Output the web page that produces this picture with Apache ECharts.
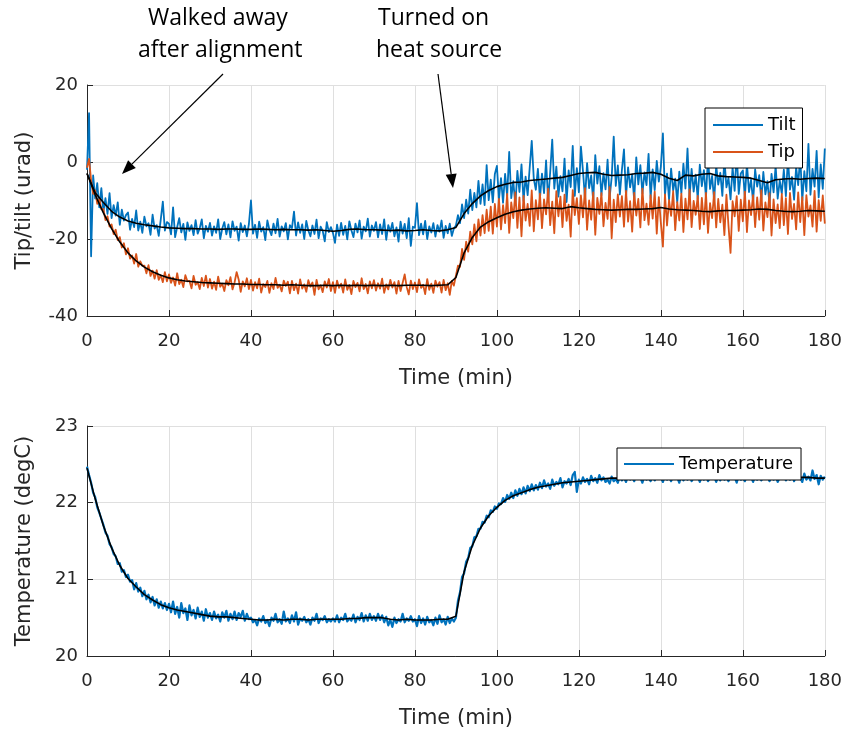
<!DOCTYPE html>
<html>
<head>
<meta charset="utf-8">
<script src="https://cdn.jsdelivr.net/npm/echarts@6/dist/echarts.min.js"></script>
<style>
  html, body { margin: 0; padding: 0; background: #ffffff; }
  #chart { width: 845px; height: 730px; }
</style>
</head>
<body>
<div id="chart"></div>
<script>
// Sampling of the logged data (minutes between samples)
const RAW_STEP = 0.5;
const AVG_STEP = 2;

// Tilt, raw readings (urad), one row per 10 minutes
const tiltRaw = [
  -2.0, 12.7, -24.5, -3.5, -9.5, -5.5, -11.8, -6.8, -12.9, -9.4, -13.5, -8.1, -14.6, -11.2, -13.9, -10.5, -16.3, -12.4, -15.2, -13.8,
  -13.1, -17.6, -14.8, -16.9, -12.6, -17.8, -15.5, -18.4, -14.2, -16.7, -15.9, -18.9, -13.7, -17.3, -16.4, -19.2, -14.9, -10.3, -17.8, -15.6,
  -16.0, -18.8, -11.8, -19.5, -16.9, -14.6, -18.3, -16.1, -20.2, -15.7, -17.9, -16.4, -19.0, -15.1, -18.6, -17.2, -14.9, -19.8, -16.6, -18.1,
  -15.8, -19.1, -16.7, -18.4, -14.9, -20.0, -17.3, -15.6, -18.8, -16.2, -19.6, -15.4, -17.9, -16.8, -20.4, -15.9, -18.2, -16.5, -19.3, -16.1,
  -10.0, -18.6, -16.3, -19.7, -15.5, -18.1, -16.9, -20.3, -15.2, -17.6, -19.0, -16.0, -18.5, -14.8, -19.4, -16.7, -18.0, -15.9, -20.1, -16.4,
  -17.2, -12.9, -19.1, -15.7, -18.4, -16.2, -20.0, -15.3, -17.8, -19.3, -16.5, -18.7, -15.0, -19.8, -16.8, -17.9, -20.6, -15.6, -18.2, -16.9,
  -18.4, -21.0, -16.3, -19.2, -15.8, -18.9, -16.6, -20.1, -15.4, -17.7, -19.5, -16.0, -18.3, -15.2, -19.9, -16.8, -18.0, -14.7, -19.4, -16.5,
  -17.9, -15.6, -19.6, -16.2, -18.7, -14.9, -20.2, -16.4, -18.1, -15.8, -19.3, -17.0, -20.7, -15.5, -18.6, -16.1, -19.8, -14.6, -21.8, -16.8,
  -17.1, -10.7, -19.0, -16.0, -18.8, -15.3, -20.0, -16.7, -18.3, -15.9, -19.4, -16.4, -18.1, -15.2, -19.7, -16.6, -18.5, -16.0, -19.2, -17.3,
  -16.5, -13.8, -15.9, -11.0, -14.6, -9.8, -13.4, -7.2, -12.5, -8.0, -11.8, -4.9, -10.9, -5.8, -11.2, -0.8, -9.9, -4.6, -10.5, -3.1,
  -1.0, -9.8, -4.2, -10.6, -3.1, -8.9, 2.6, -9.4, -5.0, -11.2, -2.3, -7.8, -0.6, -10.1, -3.8, -8.6, -1.5, 5.5, -4.4, -7.2,
  -1.8, -9.5, -3.0, -8.1, 0.4, -10.3, -2.6, 5.8, -6.9, -1.2, -9.0, -3.7, -7.6, 0.9, -10.4, -2.2, -6.5, 4.2, -8.8, -1.6,
  -7.9, 4.0, -2.4, -9.6, -0.3, -6.8, -3.5, -10.2, 1.8, -5.6, -1.1, -8.7, -2.9, -7.1, 0.6, -9.3, -4.0, 6.6, -6.2, -0.9,
  -8.4, -2.0, 3.3, -9.1, -1.4, -6.6, -3.2, -10.0, 1.2, -5.8, -0.8, -8.2, -2.7, -6.0, 2.1, -9.4, -1.9, -7.3, 0.3, -5.1,
  -1.2, 7.4, -8.6, -3.0, -9.8, -1.7, -7.4, -4.3, -10.5, -2.5, -8.1, -0.4, -6.9, 3.5, -9.2, -1.8, -7.7, -3.3, -9.6, -0.7,
  -6.3, -2.1, -9.3, 1.5, -7.0, -3.6, -10.1, -0.9, -5.9, -2.8, -8.8, 0.8, -6.6, -4.1, -9.7, -1.4, -7.5, 2.4, -8.3, -3.0,
  -2.2, -9.0, -0.5, -7.8, -4.6, -10.4, -1.9, -6.4, -3.4, -9.9, -2.6, -8.4, -5.0, -11.0, -3.1, -7.9, -1.0, -9.5, -4.8, -8.2,
  -2.0, -8.9, 0.9, -7.2, -3.9, -9.8, -1.3, -6.0, 1.6, -10.1, -2.4, -7.6, 4.7, -8.5, -1.8, -6.4, 2.9, -9.2, -0.6, -7.0,
  3.5
];

// Tip, raw readings (urad)
const tipRaw = [
  -1.5, 0.8, -4.8, -8.3, -7.4, -10.9, -9.6, -12.3, -12.2, -15.1, -14.1, -16.8, -16.2, -18.7, -17.6, -20.3, -19.5, -22.2, -21.1, -24.0,
  -22.4, -25.1, -24.3, -26.4, -23.9, -27.2, -25.8, -27.0, -26.9, -28.9, -26.8, -29.6, -28.2, -30.3, -28.1, -30.6, -29.4, -31.2, -28.6, -31.0,
  -29.2, -31.4, -30.0, -32.1, -28.9, -31.7, -30.6, -32.5, -29.4, -31.0, -30.9, -32.8, -29.6, -31.9, -31.2, -33.0, -30.1, -32.2, -29.5, -32.6,
  -30.4, -32.9, -31.1, -33.2, -29.8, -32.4, -31.6, -33.5, -30.7, -32.0, -29.9, -33.1, -31.3, -28.6, -30.5, -33.7, -31.0, -32.3, -30.2, -33.0,
  -30.6, -33.4, -31.2, -32.8, -30.3, -33.9, -31.7, -32.5, -30.9, -34.0, -31.5, -33.0, -30.1, -32.7, -31.9, -33.6, -30.8, -32.2, -31.1, -34.1,
  -30.9, -33.3, -31.6, -34.2, -30.5, -32.9, -31.8, -33.7, -30.7, -32.4, -31.3, -34.5, -30.6, -33.1, -32.0, -33.8, -31.0, -32.6, -30.4, -33.5,
  -31.2, -34.0, -30.8, -32.7, -31.6, -33.9, -30.5, -33.2, -31.9, -34.3, -30.9, -32.5, -31.4, -33.6, -30.2, -33.0, -31.7, -34.1, -31.0, -32.8,
  -30.7, -33.4, -31.5, -32.9, -30.3, -34.0, -31.8, -33.1, -30.6, -32.6, -31.2, -34.2, -30.9, -33.5, -31.4, -29.2, -32.5, -34.4, -30.8, -33.0,
  -31.3, -33.8, -30.5, -32.7, -31.9, -34.3, -30.4, -33.2, -31.6, -34.0, -30.8, -32.4, -31.2, -33.9, -30.6, -33.3, -31.5, -34.5, -30.9, -32.1,
  -29.5, -26.9, -27.2, -22.6, -25.4, -20.7, -23.3, -18.1, -21.4, -16.2, -20.6, -14.9, -19.1, -13.8, -18.5, -12.4, -17.9, -11.6, -18.6, -10.9,
  -16.8, -9.6, -17.5, -11.2, -15.9, -8.3, -18.4, -10.5, -14.6, -7.9, -17.1, -9.2, -19.3, -8.8, -15.2, -10.9, -16.6, -7.4, -18.0, -9.9,
  -14.9, -8.2, -17.2, -9.7, -13.6, -6.9, -16.4, -10.3, -18.5, -7.6, -14.1, -9.0, -16.9, -8.5, -15.3, -11.1, -19.4, -7.3, -13.8, -9.4,
  -16.1, -8.7, -14.4, -6.8, -17.6, -10.0, -15.0, -7.9, -18.9, -9.3, -13.5, -8.1, -16.7, -10.6, -14.8, -6.5, -19.8, -9.8, -15.6, -8.4,
  -14.2, -8.9, -16.8, -7.5, -15.5, -10.2, -18.1, -8.0, -13.9, -9.6, -17.0, -6.9, -15.1, -10.8, -16.3, -8.6, -14.7, -7.7, -18.6, -9.1,
  -15.8, -22.0, -8.4, -16.5, -9.9, -14.0, -7.6, -17.7, -10.4, -15.2, -8.2, -18.2, -9.5, -14.9, -7.1, -16.9, -10.1, -13.7, -8.8, -17.4,
  -9.3, -16.2, -8.0, -18.4, -10.7, -14.6, -7.8, -17.0, -9.6, -15.7, -11.1, -19.0, -8.5, -16.6, -23.6, -10.2, -14.1, -8.9, -17.9, -9.8,
  -15.4, -7.7, -18.2, -10.0, -13.8, -8.6, -16.9, -9.2, -15.0, -7.3, -17.8, -10.5, -14.3, -8.1, -19.1, -9.7, -15.9, -11.0, -17.2, -8.3,
  -16.4, -9.4, -18.7, -8.0, -14.8, -10.9, -17.5, -7.9, -15.6, -9.1, -19.0, -8.6, -14.2, -11.3, -16.8, -7.5, -18.1, -9.9, -15.3, -8.7,
  -16.0
];

// Smoothed tilt and tip (urad), every 2 minutes
const tiltAvg = [
  -3.0, -8.0, -10.5, -12.8, -14.3, -15.3, -15.9, -16.3, -16.6, -16.9,
  -17.1, -17.2, -17.3, -17.3, -17.4, -17.4, -17.5, -17.4, -17.4, -17.5,
  -17.5, -17.4, -17.5, -17.6, -17.5, -17.6, -17.6, -17.7, -17.6, -17.8,
  -18.0, -17.8, -17.5, -17.4, -17.6, -17.6, -17.7, -17.8, -17.7, -17.9,
  -17.8, -17.6, -17.8, -17.9, -17.6, -17.0, -13.4, -10.8, -8.8, -7.4,
  -6.4, -5.8, -5.3, -5.2, -4.8, -4.6, -4.4, -4.2, -4.0, -3.5,
  -3.0, -2.8, -2.7, -3.2, -3.5, -3.4, -3.3, -3.0, -2.9, -2.7,
  -3.2, -4.2, -4.8, -3.4, -3.6, -3.2, -3.0, -3.6, -3.8, -3.9,
  -4.0, -4.2, -4.8, -5.4, -4.6, -4.4, -4.3, -4.5, -4.3, -4.2,
  -4.3
];
const tipAvg = [
  -3.0, -8.5, -13.2, -17.3, -20.8, -23.6, -25.7, -27.3, -28.5, -29.4,
  -30.1, -30.6, -30.9, -31.1, -31.3, -31.4, -31.5, -31.6, -31.7, -31.7,
  -31.8, -31.8, -31.9, -31.9, -32.0, -31.9, -32.0, -32.1, -32.1, -32.0,
  -32.1, -32.0, -32.1, -32.0, -32.1, -32.0, -32.1, -32.0, -32.1, -32.0,
  -32.0, -32.0, -32.1, -32.0, -31.9, -30.0, -23.6, -19.6, -16.9, -15.5,
  -14.5, -13.6, -12.9, -12.5, -12.2, -12.0, -11.9, -12.0, -12.1, -11.6,
  -11.9, -12.1, -12.3, -12.4, -12.5, -12.4, -12.3, -12.3, -12.2, -12.1,
  -11.8, -12.2, -12.4, -12.5, -12.6, -12.8, -12.9, -12.7, -12.6, -12.6,
  -12.5, -12.4, -12.2, -12.3, -12.6, -12.8, -12.9, -12.8, -12.6, -12.7,
  -12.8
];

// Temperature, raw readings (degC)
const tempRaw = [
  22.47, 22.36, 22.26, 22.13, 22.07, 21.94, 21.87, 21.79, 21.71, 21.61, 21.57, 21.46, 21.42, 21.33, 21.30, 21.20, 21.21, 21.10, 21.12, 21.03,
  21.06, 20.97, 20.99, 20.87, 20.95, 20.84, 20.89, 20.78, 20.85, 20.74, 20.80, 20.70, 20.77, 20.66, 20.74, 20.63, 20.71, 20.62, 20.69, 20.60,
  20.68, 20.57, 20.71, 20.55, 20.64, 20.50, 20.69, 20.56, 20.62, 20.47, 20.66, 20.53, 20.60, 20.49, 20.63, 20.51, 20.58, 20.46, 20.61, 20.50,
  20.56, 20.47, 20.58, 20.49, 20.54, 20.45, 20.57, 20.50, 20.59, 20.46, 20.55, 20.48, 20.58, 20.47, 20.56, 20.51, 20.59, 20.46, 20.55, 20.48,
  20.50, 20.44, 20.47, 20.40, 20.49, 20.45, 20.52, 20.43, 20.47, 20.39, 20.50, 20.46, 20.55, 20.44, 20.48, 20.42, 20.58, 20.45, 20.49, 20.43,
  20.53, 20.45, 20.57, 20.41, 20.49, 20.46, 20.51, 20.44, 20.48, 20.41, 20.50, 20.46, 20.55, 20.43, 20.49, 20.47, 20.52, 20.44, 20.48, 20.45,
  20.49, 20.45, 20.53, 20.44, 20.50, 20.47, 20.55, 20.45, 20.49, 20.46, 20.54, 20.44, 20.51, 20.47, 20.56, 20.45, 20.53, 20.46, 20.55, 20.47,
  20.52, 20.46, 20.55, 20.47, 20.53, 20.44, 20.51, 20.40, 20.47, 20.38, 20.50, 20.43, 20.48, 20.45, 20.55, 20.44, 20.49, 20.46, 20.52, 20.45,
  20.48, 20.39, 20.52, 20.43, 20.49, 20.41, 20.51, 20.44, 20.47, 20.40, 20.50, 20.42, 20.53, 20.44, 20.48, 20.41, 20.51, 20.43, 20.49, 20.45,
  20.50, 20.72, 20.83, 21.03, 21.08, 21.23, 21.28, 21.41, 21.43, 21.55, 21.56, 21.66, 21.66, 21.75, 21.74, 21.83, 21.81, 21.90, 21.88, 21.95,
  21.92, 21.99, 21.98, 22.06, 22.01, 22.10, 22.05, 22.13, 22.06, 22.16, 22.09, 22.18, 22.11, 22.20, 22.12, 22.22, 22.15, 22.24, 22.16, 22.23,
  22.17, 22.26, 22.19, 22.29, 22.21, 22.25, 22.18, 22.30, 22.22, 22.27, 22.24, 22.32, 22.20, 22.28, 22.25, 22.31, 22.23, 22.36, 22.40, 22.14,
  22.30, 22.25, 22.33, 22.27, 22.31, 22.24, 22.35, 22.28, 22.32, 22.26, 22.36, 22.29, 22.33, 22.27, 22.30, 22.25, 22.34, 22.28, 22.31, 22.26,
  22.35, 22.29, 22.33, 22.27, 22.36, 22.30, 22.34, 22.28, 22.37, 22.31, 22.33, 22.26, 22.35, 22.30, 22.32, 22.28, 22.36, 22.29, 22.34, 22.31,
  22.33, 22.27, 22.36, 22.30, 22.34, 22.28, 22.35, 22.31, 22.33, 22.26, 22.36, 22.29, 22.34, 22.30, 22.37, 22.28, 22.33, 22.31, 22.35, 22.27,
  22.34, 22.30, 22.36, 22.28, 22.33, 22.31, 22.35, 22.27, 22.34, 22.29, 22.37, 22.30, 22.33, 22.28, 22.35, 22.31, 22.34, 22.26, 22.36, 22.30,
  22.33, 22.28, 22.36, 22.31, 22.34, 22.27, 22.35, 22.30, 22.37, 22.29, 22.33, 22.31, 22.36, 22.28, 22.34, 22.30, 22.35, 22.27, 22.33, 22.31,
  22.36, 22.29, 22.34, 22.30, 22.41, 22.28, 22.35, 22.31, 22.33, 22.27, 22.38, 22.30, 22.34, 22.29, 22.42, 22.31, 22.36, 22.24, 22.35, 22.30,
  22.34
];

// Smoothed temperature (degC), every 2 minutes
const tempAvg = [
  22.45, 22.05, 21.70, 21.41, 21.18, 21.01, 20.90, 20.80, 20.73, 20.67,
  20.63, 20.60, 20.58, 20.56, 20.54, 20.52, 20.51, 20.51, 20.50, 20.49,
  20.48, 20.47, 20.47, 20.48, 20.47, 20.48, 20.48, 20.47, 20.48, 20.48,
  20.48, 20.48, 20.49, 20.49, 20.50, 20.50, 20.50, 20.48, 20.47, 20.48,
  20.47, 20.47, 20.47, 20.48, 20.48, 20.52, 21.10, 21.44, 21.67, 21.83,
  21.94, 22.03, 22.09, 22.13, 22.17, 22.20, 22.22, 22.24, 22.26, 22.27,
  22.28, 22.29, 22.30, 22.31, 22.32, 22.32, 22.33, 22.33, 22.32, 22.33,
  22.33, 22.33, 22.32, 22.33, 22.33, 22.32, 22.32, 22.33, 22.33, 22.32,
  22.33, 22.32, 22.32, 22.33, 22.33, 22.32, 22.32, 22.33, 22.33, 22.32,
  22.32
];

// Axis ticks
const timeTicks = { min: 0, max: 180, interval: 20 };
const tiltTicks = { min: -40, max: 20, interval: 20 };
const tempTicks = { min: 20, max: 23, interval: 1 };

const BLUE = '#0072BD';
const ORANGE = '#D95319';
const AXIS = '#262626';
const GRID = '#dfdfdf';
const TICK_FONT = 'DejaVu Sans';

function toPairs(values, step) {
  return values.map((v, i) => [i * step, v]);
}

function xAxisFor(gridIndex) {
  return {
    type: 'value', gridIndex,
    min: timeTicks.min, max: timeTicks.max, interval: timeTicks.interval,
    name: 'Time (min)', nameLocation: 'middle', nameGap: 52,
    nameTextStyle: { color: AXIS, fontSize: 21, fontFamily: TICK_FONT },
    axisLine: { show: true, onZero: false, lineStyle: { color: AXIS, width: 1 } },
    axisTick: { show: true, inside: true, length: 6, lineStyle: { color: AXIS } },
    axisLabel: { margin: 16, color: AXIS, fontSize: 18, fontFamily: TICK_FONT },
    splitLine: { show: true, lineStyle: { color: GRID, width: 1 } }
  };
}

function yAxisFor(gridIndex, ticks, name) {
  return {
    type: 'value', gridIndex,
    min: ticks.min, max: ticks.max, interval: ticks.interval,
    name, nameLocation: 'middle', nameGap: 52,
    nameTextStyle: { color: AXIS, fontSize: 21, fontFamily: TICK_FONT },
    axisLine: { show: true, onZero: false, lineStyle: { color: AXIS, width: 1 } },
    axisTick: { show: true, inside: true, length: 6, lineStyle: { color: AXIS } },
    axisLabel: { margin: 9, color: AXIS, fontSize: 18, fontFamily: TICK_FONT },
    splitLine: { show: true, lineStyle: { color: GRID, width: 1 } }
  };
}

function lineSeries(name, values, step, color, width, axisIndex) {
  return {
    name, type: 'line',
    xAxisIndex: axisIndex, yAxisIndex: axisIndex,
    data: toPairs(values, step),
    symbol: 'none', showSymbol: false,
    color,
    lineStyle: { color, width, join: 'round' },
    silent: true, animation: false
  };
}

// Callout arrow: a shaft ending in a filled head at (tx, ty)
function arrow(sx, sy, tx, ty) {
  const len = Math.hypot(tx - sx, ty - sy);
  const ux = (tx - sx) / len, uy = (ty - sy) / len;
  const headLen = 14, headHalf = 5.5;
  const bx = tx - ux * headLen, by = ty - uy * headLen;
  return [
    { type: 'line', silent: true, z: 10,
      shape: { x1: sx, y1: sy, x2: bx, y2: by },
      style: { stroke: '#000', lineWidth: 1.2 } },
    { type: 'polygon', silent: true, z: 10,
      shape: { points: [[tx, ty], [bx - uy * headHalf, by + ux * headHalf], [bx + uy * headHalf, by - ux * headHalf]] },
      style: { fill: '#000' } }
  ];
}

function note(text, x, y) {
  return { type: 'text', silent: true, z: 10, x, y,
    style: { text, fill: '#000', font: '23px "Open Sans"', align: 'left', verticalAlign: 'middle' } };
}

const chart = echarts.init(document.getElementById('chart'), null, { renderer: 'canvas' });

chart.setOption({
  animation: false,
  backgroundColor: '#ffffff',
  grid: [
    { left: 87, top: 85, width: 738, height: 231 },
    { left: 87, top: 426, width: 738, height: 230 }
  ],
  xAxis: [xAxisFor(0), xAxisFor(1)],
  yAxis: [
    yAxisFor(0, tiltTicks, 'Tip/tilt (urad)'),
    yAxisFor(1, tempTicks, 'Temperature (degC)')
  ],
  legend: [
    {
      data: ['Tilt', 'Tip'], orient: 'vertical', left: 705, top: 108,
      icon: 'rect', itemWidth: 50, itemHeight: 2, itemGap: 9,
      padding: [8, 7, 7, 8],
      backgroundColor: '#ffffff', borderColor: '#000000', borderWidth: 1, borderRadius: 0,
      textStyle: { color: '#000', fontSize: 18, fontFamily: TICK_FONT },
      selectedMode: false
    },
    {
      data: ['Temperature'], orient: 'vertical', left: 617, top: 448,
      icon: 'rect', itemWidth: 50, itemHeight: 2,
      padding: [7, 8, 7, 7],
      backgroundColor: '#ffffff', borderColor: '#000000', borderWidth: 1, borderRadius: 0,
      textStyle: { color: '#000', fontSize: 18, fontFamily: TICK_FONT },
      selectedMode: false
    }
  ],
  series: [
    lineSeries('Tilt', tiltRaw, RAW_STEP, BLUE, 1.8, 0),
    lineSeries('Tip', tipRaw, RAW_STEP, ORANGE, 1.8, 0),
    lineSeries('Tilt (smoothed)', tiltAvg, AVG_STEP, '#000000', 1.6, 0),
    lineSeries('Tip (smoothed)', tipAvg, AVG_STEP, '#000000', 1.6, 0),
    lineSeries('Temperature', tempRaw, RAW_STEP, BLUE, 2.2, 1),
    lineSeries('Temperature (smoothed)', tempAvg, AVG_STEP, '#000000', 1.6, 1)
  ],
  graphic: [
    note('Walked away', 148, 18),
    note('after alignment', 138, 50),
    note('Turned on', 378, 18),
    note('heat source', 376, 50),
    ...arrow(223, 74, 122, 174),
    ...arrow(438, 74, 453, 188)
  ]
});
</script>
</body>
</html>
